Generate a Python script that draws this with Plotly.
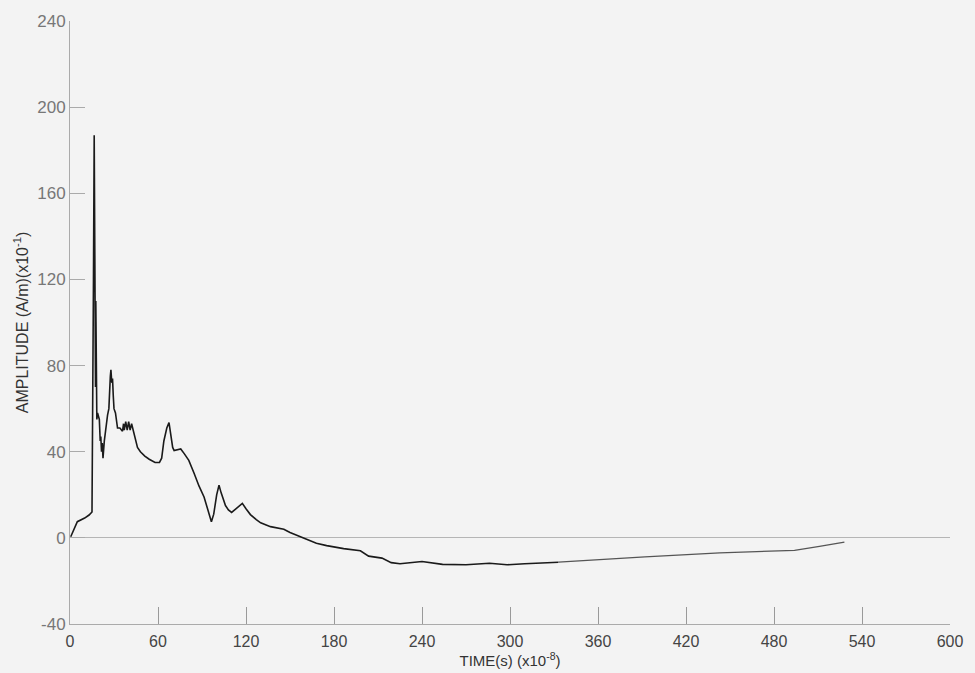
import plotly.graph_objects as go

# Time values (x10^-8 s) and amplitude values (A/m x10^-1)
time = [0.5, 3, 5, 10, 13, 15, 15.6, 16.0, 16.5, 16.8, 17.0, 17.2, 17.4, 17.6, 17.8, 18.0, 18.3,
        18.8, 19.5, 20.0, 20.6, 21.0, 21.5, 22.0, 22.5, 23.4, 25.6, 26.5, 27.5, 27.9, 28.5, 29.0,
        29.5, 30.0, 31.0, 32.4, 34.0, 35.8, 36.5, 37.0, 38.0, 39.0, 40.0, 41.0, 42.0, 43.0, 44.0,
        46.0, 48.0, 51.0, 54.0, 58.0, 61.0, 62.5, 64.0, 66.0, 67.5, 68.5, 70.0, 71.0, 73.0, 75.5,
        78.0, 81.0, 84.6, 88.0, 91.4, 93.0, 95.0, 96.4, 98.0, 100.0, 101.6, 103.0, 106.0, 108.0,
        110.2, 113.0, 117.5, 120.0, 123.0, 127.0, 130.0, 136.7, 145.8, 150.0, 155.0, 161.7, 168.0,
        175.0, 186.6, 198.0, 203.6, 212.7, 219.0, 225.0, 240.0, 254.0, 270.0, 286.0, 298.0, 310.0,
        333.0, 375.0, 392.0, 443.0, 494.0, 511.0, 528.0]
amplitude = [0.5, 4.6, 7.5, 9.2, 10.6, 12, 60, 120, 187, 150, 95, 130, 70, 110, 60, 85, 55,
             58, 56, 55, 45, 47, 40, 44, 37, 45, 57, 60, 75, 78, 72, 74,
             66, 60, 58, 51, 51, 49.5, 53, 50, 54, 50, 54, 50, 53, 50, 47,
             42, 40, 38, 36.5, 35, 35, 37, 45, 51, 53.5, 49, 42, 40.5, 41, 41.3,
             39, 36, 30, 24, 19, 15, 10, 7.5, 11, 20, 24.5, 21, 15, 13,
             11.8, 13.5, 16, 13.5, 10.8, 8.5, 7, 5.2, 4, 2.5, 1.2, -0.9, -2.5,
             -3.6, -5, -6, -8.5, -9.4, -11.5, -12, -11, -12.3, -12.5, -11.8, -12.5, -12,
             -11.3, -9.5, -8.8, -7, -5.8, -4, -2]

x_ticks = [0, 60, 120, 180, 240, 300, 360, 420, 480, 540, 600]
y_ticks = [-40, 0, 40, 80, 120, 160, 200, 240]

split = time.index(333.0)

fig = go.Figure()
fig.add_trace(go.Scatter(x=time[:split + 1], y=amplitude[:split + 1], mode="lines",
                         line=dict(color="#1a1a1a", width=1.6), showlegend=False,
                         hoverinfo="skip"))
fig.add_trace(go.Scatter(x=time[split:], y=amplitude[split:], mode="lines",
                         line=dict(color="#555", width=1.3), showlegend=False,
                         hoverinfo="skip"))

bg = "#f3f3f3"
fig.update_layout(
    width=975, height=673,
    paper_bgcolor=bg, plot_bgcolor=bg,
    margin=dict(l=70, r=24, t=19, b=49),
    font=dict(family="Liberation Sans, Arial, sans-serif", color="#555"),
    xaxis=dict(range=[0, 600], tickvals=x_ticks, ticktext=[str(v) for v in x_ticks],
               showgrid=False, zeroline=False, showline=True, linecolor="#aaa", linewidth=1,
               ticks="inside", ticklen=17, tickcolor="#999", tickwidth=1,
               tickfont=dict(size=16, color="#444"), ticklabelstandoff=3,
               title=dict(text="TIME(s) (x10<sup>-8</sup>)", font=dict(size=15, color="#333"),
                          standoff=0)),
    yaxis=dict(range=[-40, 240], tickvals=y_ticks, ticktext=[str(v) for v in y_ticks],
               showgrid=False, zeroline=True, zerolinecolor="#b5b5b5", zerolinewidth=1,
               showline=True, linecolor="#aaa", linewidth=1,
               ticks="inside", ticklen=15, tickcolor="#aaa", tickwidth=1,
               tickfont=dict(size=17, color="#777"),
               title=dict(text="AMPLITUDE (A/m)(x10<sup>-1</sup>)", font=dict(size=16, color="#333"),
                          standoff=4)),
)

fig.write_html("out.html")
